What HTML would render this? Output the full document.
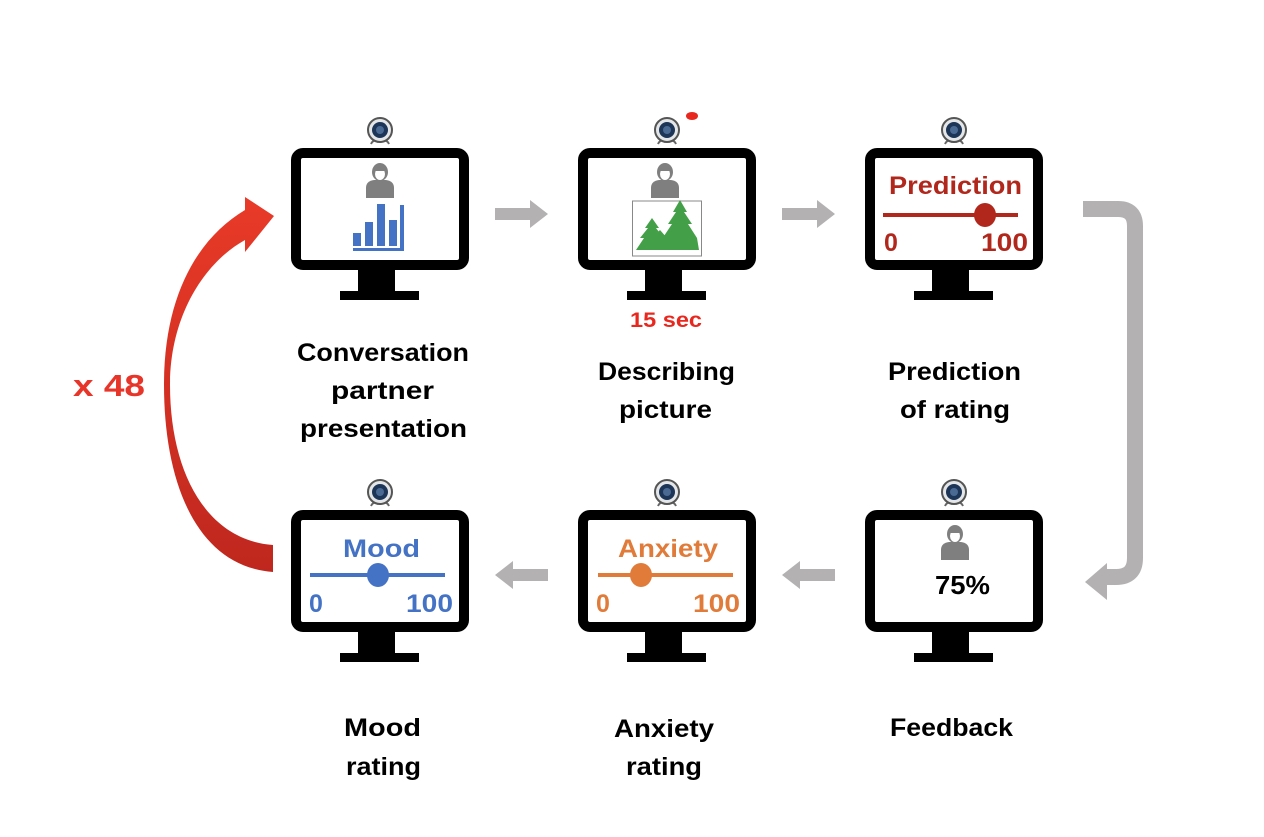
<!DOCTYPE html>
<html><head><meta charset="utf-8"><style>
html,body{margin:0;padding:0;background:#fff;}
svg{display:block;}
text{font-family:"Liberation Sans",sans-serif;font-weight:bold;}
</style></head><body>
<svg width="1264" height="837" viewBox="0 0 1264 837" xmlns="http://www.w3.org/2000/svg">
<defs>
<g id="mon">
  <rect x="5" y="5" width="168" height="112" rx="7" fill="#fff" stroke="#000" stroke-width="10"/>
  <rect x="67" y="121" width="37" height="24" fill="#000"/>
  <rect x="49" y="143" width="79" height="9" fill="#000"/>
  <path d="M80,-4 Q82,-9 89,-8 Q96,-9 98,-4" fill="none" stroke="#666" stroke-width="2"/>
  <circle cx="89" cy="-18" r="12" fill="#e4e6e8" stroke="#555" stroke-width="2"/>
  <circle cx="89" cy="-18" r="8" fill="#1d3557"/>
  <circle cx="89" cy="-18" r="4" fill="#4a6a94"/>
</g>
<g id="person">
  <path d="M-14,30 L-14,20 Q-14,13 -6,12 L6,12 Q14,13 14,20 L14,30 Z" fill="#7f7f7f"/>
  <ellipse cx="0" cy="4" rx="8" ry="9" fill="#7f7f7f"/>
  <ellipse cx="0" cy="6" rx="5" ry="6" fill="#fff"/>
  <path d="M-6,3 Q0,-4 6,3" fill="#7f7f7f"/>
</g>
<linearGradient id="rg" x1="0" y1="0" x2="0" y2="1">
  <stop offset="0" stop-color="#e93a28"/><stop offset="1" stop-color="#bf271e"/>
</linearGradient>
</defs>

<use href="#mon" x="291" y="148"/>
<use href="#mon" x="578" y="148"/>
<use href="#mon" x="865" y="148"/>
<use href="#mon" x="291" y="510"/>
<use href="#mon" x="578" y="510"/>
<use href="#mon" x="865" y="510"/>

<ellipse cx="692" cy="116" rx="6" ry="4" fill="#e8281e"/>

<use href="#person" x="380" y="168"/>
<g fill="#4472c4">
  <rect x="353" y="233" width="8" height="13"/>
  <rect x="365" y="222" width="8" height="24"/>
  <rect x="377" y="204" width="8" height="42"/>
  <rect x="389" y="220" width="8" height="26"/>
  <rect x="400" y="205" width="4" height="45"/>
  <rect x="353" y="248" width="51" height="3"/>
</g>

<use href="#person" x="665" y="168"/>
<rect x="632.5" y="201" width="69" height="55" fill="#fff" stroke="#888" stroke-width="1"/>
<g fill="#44a048">
  <path d="M636,250 L644,238 L640,238 L648,228 L645,228 L652,218 L659,228 L656,228 L662,236 L668,236 L664,236 L672,224 L668,224 L676,212 L673,212 L680,200 L687,212 L684,212 L692,224 L688,224 L697,238 L699,250 Z"/>
  <path d="M652,238 L660,230 L667,238 Z"/>
</g>
<text x="630" y="327" font-size="21" fill="#e8281e" textLength="72" lengthAdjust="spacingAndGlyphs">15 sec</text>

<text x="889" y="194" font-size="25" fill="#b1271c" textLength="133" lengthAdjust="spacingAndGlyphs">Prediction</text>
<line x1="883" y1="215" x2="1018" y2="215" stroke="#b1271c" stroke-width="4"/>
<ellipse cx="985" cy="215" rx="11" ry="12" fill="#b1271c"/>
<text x="884" y="251" font-size="25" fill="#b1271c">0</text>
<text x="981" y="251" font-size="25" fill="#b1271c" textLength="47" lengthAdjust="spacingAndGlyphs">100</text>

<text x="343" y="557" font-size="25" fill="#4472c4" textLength="77" lengthAdjust="spacingAndGlyphs">Mood</text>
<line x1="310" y1="575" x2="445" y2="575" stroke="#4472c4" stroke-width="4"/>
<ellipse cx="378" cy="575" rx="11" ry="12" fill="#4472c4"/>
<text x="309" y="612" font-size="25" fill="#4472c4">0</text>
<text x="406" y="612" font-size="25" fill="#4472c4" textLength="47" lengthAdjust="spacingAndGlyphs">100</text>

<text x="618" y="557" font-size="25" fill="#e07b39" textLength="100" lengthAdjust="spacingAndGlyphs">Anxiety</text>
<line x1="598" y1="575" x2="733" y2="575" stroke="#e07b39" stroke-width="4"/>
<ellipse cx="641" cy="575" rx="11" ry="12" fill="#e07b39"/>
<text x="596" y="612" font-size="25" fill="#e07b39">0</text>
<text x="693" y="612" font-size="25" fill="#e07b39" textLength="47" lengthAdjust="spacingAndGlyphs">100</text>

<use href="#person" x="955" y="530"/>
<text x="935" y="594" font-size="26" fill="#000" textLength="55" lengthAdjust="spacingAndGlyphs">75%</text>

<g fill="#b3b1b2">
  <path d="M495,208 L530,208 L530,200 L548,214 L530,228 L530,220 L495,220 Z"/>
  <path d="M782,208 L817,208 L817,200 L835,214 L817,228 L817,220 L782,220 Z"/>
  <path d="M548,569 L513,569 L513,561 L495,575 L513,589 L513,581 L548,581 Z"/>
  <path d="M835,569 L800,569 L800,561 L782,575 L800,589 L800,581 L835,581 Z"/>
</g>
<path d="M1083,209 L1118,209 Q1135,209 1135,226 L1135,558 Q1135,577 1116,577 L1105,577" fill="none" stroke="#b3b1b2" stroke-width="16"/>
<path d="M1107,563 L1085,582 L1107,600 Z" fill="#b3b1b2"/>

<path d="M273,572 C195,566 164,480 164,385 C164,295 198,238 245,210 L245,197 L274,216 L245,252 L245,240 C205,262 170,315 170,385 C170,470 205,540 273,545 Z" fill="url(#rg)"/>
<text x="73" y="396" font-size="31" fill="#e8352a" textLength="72" lengthAdjust="spacingAndGlyphs">x 48</text>

<g font-size="25" fill="#000">
  <text x="297" y="361" textLength="172" lengthAdjust="spacingAndGlyphs">Conversation</text>
  <text x="331" y="399" textLength="103" lengthAdjust="spacingAndGlyphs">partner</text>
  <text x="300" y="437" textLength="167" lengthAdjust="spacingAndGlyphs">presentation</text>
  <text x="598" y="380" textLength="137" lengthAdjust="spacingAndGlyphs">Describing</text>
  <text x="619" y="418" textLength="93" lengthAdjust="spacingAndGlyphs">picture</text>
  <text x="888" y="380" textLength="133" lengthAdjust="spacingAndGlyphs">Prediction</text>
  <text x="900" y="418" textLength="110" lengthAdjust="spacingAndGlyphs">of rating</text>
  <text x="344" y="736" textLength="77" lengthAdjust="spacingAndGlyphs">Mood</text>
  <text x="346" y="775" textLength="75" lengthAdjust="spacingAndGlyphs">rating</text>
  <text x="614" y="737" textLength="100" lengthAdjust="spacingAndGlyphs">Anxiety</text>
  <text x="626" y="775" textLength="76" lengthAdjust="spacingAndGlyphs">rating</text>
  <text x="890" y="736" textLength="123" lengthAdjust="spacingAndGlyphs">Feedback</text>
</g>
</svg>
</body></html>
